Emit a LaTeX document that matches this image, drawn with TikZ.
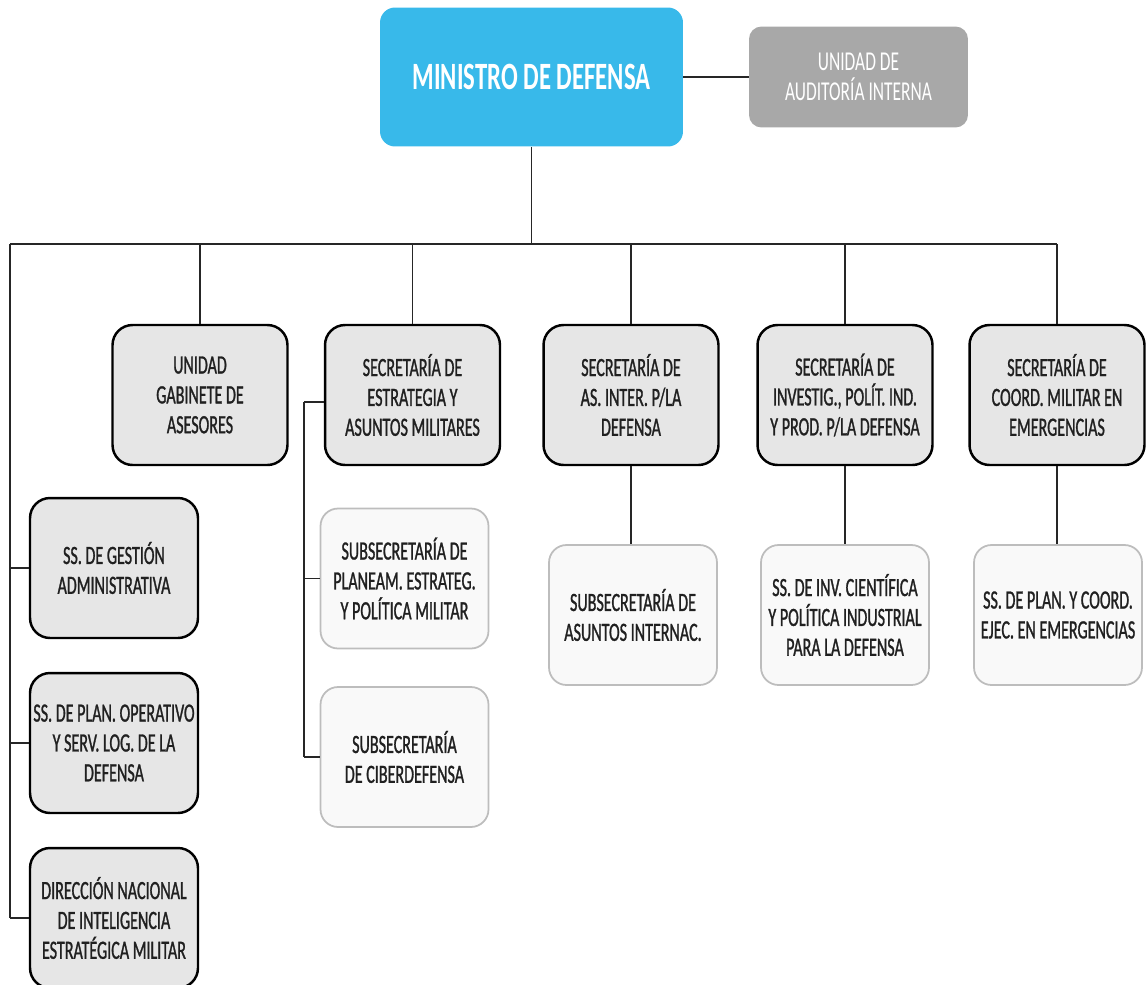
\documentclass[tikz,border=0pt]{standalone}
\usepackage{fontspec}
\setmainfont[FakeStretch=0.61,FakeBold=1]{Carlito}
\newfontfamily\titulo[FakeStretch=0.64]{Carlito}
\usetikzlibrary{positioning}

\definecolor{celeste}{HTML}{38B9EA}
\definecolor{grisaud}{HTML}{A8A8A8}
\definecolor{grisfondo}{HTML}{E6E6E6}
\definecolor{grisclaro}{HTML}{F9F9F9}
\definecolor{bordeclaro}{HTML}{BDBDBD}
\definecolor{texto}{HTML}{202020}

\begin{document}
\begin{tikzpicture}[x=0.02cm,y=-0.02cm,
    linea/.style={draw=black!85,line width=0.9pt},
    secre/.style={draw=black,line width=1.4pt,fill=grisfondo,rounded corners=0.4cm,
      minimum width=3.5cm,minimum height=2.8cm,align=center,text=texto,
      inner xsep=1pt,font=\fontsize{15}{17}\selectfont},
    subsec/.style={draw=bordeclaro,line width=1pt,fill=grisclaro,rounded corners=0.35cm,
      minimum width=3.36cm,minimum height=2.8cm,align=center,text=texto,
      inner xsep=1pt,font=\fontsize{15}{17}\selectfont}]
\useasboundingbox (0,0) rectangle (1146,984);

% cabecera
\node[fill=celeste,rounded corners=0.3cm,minimum width=6.06cm,minimum height=2.78cm,
  text=white,font=\titulo\fontsize{22}{26}\bfseries\selectfont] (ministro) at (531.5,77) {MINISTRO DE DEFENSA};
\node[fill=grisaud,rounded corners=0.25cm,minimum width=4.38cm,minimum height=2.02cm,
  text=white,align=center,font=\titulo\fontsize{15.5}{17}\selectfont] (auditoria) at (858.5,77) {UNIDAD DE\\AUDITORÍA INTERNA};

% secretarías
\node[secre] (gabinete) at (200,395) {UNIDAD\\GABINETE DE\\ASESORES};
\node[secre] (estrat) at (412.5,395) {SECRETARÍA DE\\ESTRATEGIA Y\\ASUNTOS MILITARES};
\node[secre] (asint) at (631,395) {SECRETARÍA  DE\\AS. INTER. P/LA\\DEFENSA};
\node[secre] (invest) at (845,395) {SECRETARÍA DE\\INVESTIG., POLÍT. IND.\\Y PROD. P/LA DEFENSA};
\node[secre] (coord) at (1057,395) {SECRETARÍA DE\\COORD. MILITAR EN\\EMERGENCIAS};

% columna izquierda
\node[secre,minimum width=3.36cm] (gestion) at (114,568) {SS. DE GESTIÓN\\ADMINISTRATIVA};
\node[secre,minimum width=3.36cm] (planop) at (114,743) {SS. DE PLAN. OPERATIVO\\Y SERV. LOG. DE LA\\DEFENSA};
\node[secre,minimum width=3.36cm] (dirinteli) at (114,918) {DIRECCIÓN NACIONAL\\DE INTELIGENCIA\\ESTRATÉGICA MILITAR};

% subsecretarías
\node[subsec] (planeam) at (404.5,578.5) {SUBSECRETARÍA  DE\\PLANEAM. ESTRATEG.\\Y POLÍTICA MILITAR};
\node[subsec] (ciber) at (404.5,757) {SUBSECRETARÍA\\DE CIBERDEFENSA};
\node[subsec] (subasint) at (633,615) {SUBSECRETARÍA  DE\\ASUNTOS INTERNAC.};
\node[subsec] (subinvest) at (845,615) {SS. DE INV. CIENTÍFICA\\Y POLÍTICA INDUSTRIAL\\PARA LA DEFENSA};
\node[subsec] (subcoord) at (1058,615) {SS. DE PLAN. Y COORD.\\EJEC. EN EMERGENCIAS};

\coordinate (bus) at (531.5,244);
\coordinate (izq) at (10,244);
\coordinate (eb) at (304,402);

\path[linea]
  (ministro.east) edge (auditoria.west)
  (ministro.south) edge (bus)
  (izq) edge (bus -| coord.north)
  (izq) edge (izq |- dirinteli.west)
  (izq |- gestion.west) edge (gestion.west)
  (izq |- planop.west) edge (planop.west)
  (izq |- dirinteli.west) edge (dirinteli.west)
  (estrat.west |- eb) edge (eb)
  (eb) edge (eb |- ciber.west)
  (eb |- planeam.west) edge (planeam.west)
  (eb |- ciber.west) edge (ciber.west)
  (asint.south) edge (asint.south |- subasint.north)
  (invest.south) edge (invest.south |- subinvest.north)
  (coord.south) edge (coord.south |- subcoord.north);
\foreach \n in {gabinete,estrat,asint,invest,coord}
  \draw[linea] (\n.north) -- (\n.north |- bus);
\end{tikzpicture}
\end{document}
